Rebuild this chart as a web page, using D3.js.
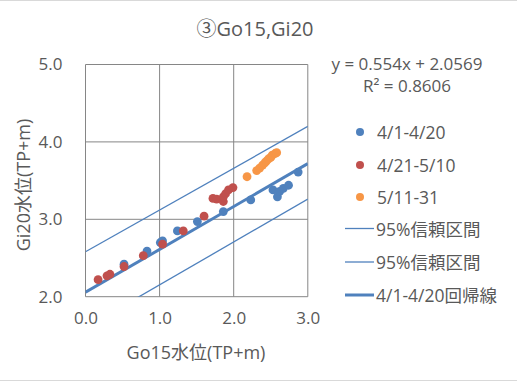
<!DOCTYPE html>
<html>
<head>
<meta charset="utf-8">
<script src="https://cdn.jsdelivr.net/npm/d3@7"></script>
<style>
  body { margin: 0; background: #fff; }
  text { font-family: "Open Sans", "Noto Sans CJK JP", sans-serif; fill: #595959; }
</style>
</head>
<body>
<svg id="chart" width="517" height="382"></svg>
<script>
// series: [Go15, Gi20]
var apr1to20 = [
  [0.52, 2.42], [0.83, 2.59], [1.01, 2.70], [1.04, 2.72], [1.24, 2.85],
  [1.51, 2.97], [1.86, 3.10], [2.23, 3.25], [2.53, 3.38], [2.59, 3.29],
  [2.62, 3.36], [2.67, 3.40], [2.74, 3.44], [2.87, 3.61]
];
var apr21to510 = [
  [0.17, 2.22], [0.29, 2.27], [0.33, 2.29], [0.52, 2.39], [0.78, 2.53],
  [1.04, 2.68], [1.32, 2.85], [1.60, 3.04], [1.72, 3.27], [1.77, 3.26],
  [1.86, 3.23], [1.86, 3.29], [1.89, 3.33], [1.93, 3.38], [1.99, 3.41]
];
var may11to31 = [
  [2.18, 3.55], [2.31, 3.63], [2.35, 3.66], [2.39, 3.70], [2.42, 3.73],
  [2.44, 3.75], [2.47, 3.78], [2.50, 3.80], [2.52, 3.83], [2.56, 3.85],
  [2.58, 3.86]
];
var upperBand = [[0, 2.58], [3, 4.20]];
var lowerBand = [[0, 1.60], [3, 3.26]];
var regLine = [[0, 2.0569], [3, 3.7189]];

var xTicks = [0, 1, 2, 3];
var yTicks = [2, 3, 4, 5];

var seriesNames = ["4/1-4/20", "4/21-5/10", "5/11-31"];
var lineNames = ["95%信頼区間", "95%信頼区間", "4/1-4/20回帰線"];
var titleText = "③Go15,Gi20";
var eqText = ["y = 0.554x + 2.0569", "R² = 0.8606"];

var blue = "#4F81BD", red = "#C0504D", orange = "#F79646";

var svg = d3.select("#chart");

// outer border lines
svg.append("line").attr("x1", 0).attr("x2", 517).attr("y1", 0.5).attr("y2", 0.5)
  .attr("stroke", "#d9d9d9");
svg.append("line").attr("x1", 0).attr("x2", 517).attr("y1", 380.5).attr("y2", 380.5)
  .attr("stroke", "#d9d9d9");

var x = d3.scaleLinear().domain([0, 3]).range([85.5, 307.8]);
var y = d3.scaleLinear().domain([2, 5]).range([296.7, 64.5]);

// gridlines
var grid = svg.append("g");
grid.selectAll(".gx").data(xTicks).enter().append("line")
  .attr("x1", function(d) { return x(d); }).attr("x2", function(d) { return x(d); })
  .attr("y1", y(2)).attr("y2", y(5))
  .attr("stroke", "#868686").attr("stroke-width", 1);
grid.selectAll(".gy").data(yTicks).enter().append("line")
  .attr("y1", function(d) { return y(d); }).attr("y2", function(d) { return y(d); })
  .attr("x1", x(0)).attr("x2", x(3))
  .attr("stroke", "#868686").attr("stroke-width", 1);

// axes (labels only)
var xAxis = svg.append("g").attr("transform", "translate(0," + y(2) + ")")
  .call(d3.axisBottom(x).tickValues(xTicks).tickFormat(d3.format(".1f")).tickSize(0).tickPadding(15));
var yAxis = svg.append("g").attr("transform", "translate(" + x(0) + ",0)")
  .call(d3.axisLeft(y).tickValues(yTicks).tickFormat(d3.format(".1f")).tickSize(0).tickPadding(23));
[xAxis, yAxis].forEach(function(a) {
  a.select(".domain").remove();
  a.selectAll("text").style("font-size", "17px").attr("fill", "#595959")
    .style("font-family", "'Open Sans', 'Noto Sans CJK JP', sans-serif");
});

svg.append("clipPath").attr("id", "plotclip").append("rect")
  .attr("x", x(0)).attr("y", y(5)).attr("width", x(3) - x(0)).attr("height", y(2) - y(5));

var line = d3.line().x(function(d) { return x(d[0]); }).y(function(d) { return y(d[1]); });
var lines = svg.append("g").attr("clip-path", "url(#plotclip)");
[upperBand, lowerBand].forEach(function(b) {
  lines.append("path").datum(b).attr("d", line)
    .attr("fill", "none").attr("stroke", blue).attr("stroke-width", 1.3);
});
lines.append("path").datum(regLine).attr("d", line)
  .attr("fill", "none").attr("stroke", blue).attr("stroke-width", 3);

// points
var allSeries = [[apr1to20, blue], [apr21to510, red], [may11to31, orange]];
allSeries.forEach(function(s) {
  svg.append("g").selectAll("circle").data(s[0]).enter().append("circle")
    .attr("cx", function(d) { return x(d[0]); })
    .attr("cy", function(d) { return y(d[1]); })
    .attr("r", 4.4).attr("fill", s[1]);
});

// title
svg.append("text").attr("x", 255).attr("y", 28).attr("text-anchor", "middle")
  .attr("dominant-baseline", "central").style("font-size", "20px").text(titleText);

// axis titles
svg.append("text").attr("x", 196).attr("y", 352).attr("text-anchor", "middle")
  .attr("dominant-baseline", "central").style("font-size", "18px").text("Go15水位(TP+m)");
svg.append("text").attr("transform", "translate(23,185) rotate(-90)").attr("text-anchor", "middle")
  .attr("dominant-baseline", "central").style("font-size", "18px").text("Gi20水位(TP+m)");

// equation
svg.selectAll(".eq").data(eqText).enter().append("text")
  .attr("x", 407).attr("y", function(d, i) { return 63 + i * 22; })
  .attr("text-anchor", "middle").attr("dominant-baseline", "central")
  .style("font-size", "17px").text(function(d) { return d; });

// legend
var legend = svg.append("g");
var dotYs = [132, 165, 197];
seriesNames.forEach(function(n, i) {
  legend.append("circle").attr("cx", 360).attr("cy", dotYs[i]).attr("r", 4).attr("fill", allSeries[i][1]);
  legend.append("text").attr("x", 377).attr("y", dotYs[i]).attr("dominant-baseline", "central")
    .style("font-size", "17.5px").text(n);
});
var lineYs = [228.5, 262, 295];
lineNames.forEach(function(n, i) {
  legend.append("line").attr("x1", 345).attr("x2", 374).attr("y1", lineYs[i]).attr("y2", lineYs[i])
    .attr("stroke", blue).attr("stroke-width", i === 2 ? 3 : 1.3);
  legend.append("text").attr("x", 376).attr("y", lineYs[i]).attr("dominant-baseline", "central")
    .style("font-size", "17.5px").text(n);
});
</script>
</body>
</html>
